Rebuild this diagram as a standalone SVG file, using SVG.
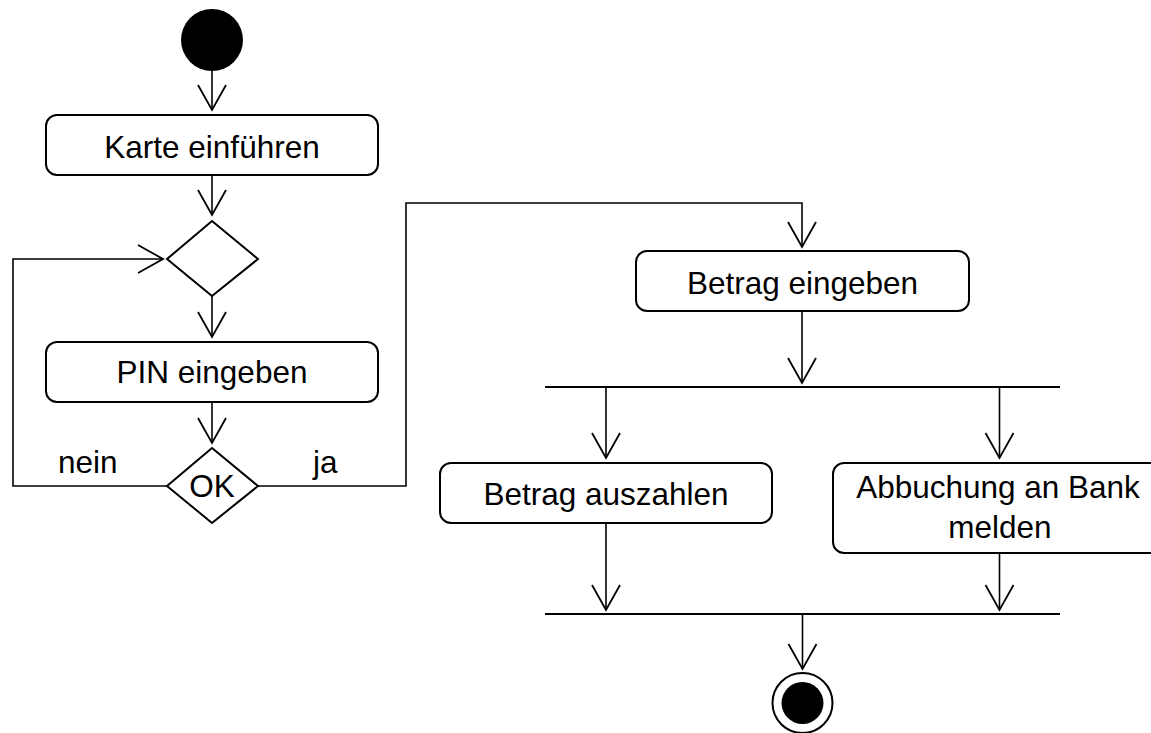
<svg xmlns="http://www.w3.org/2000/svg" width="1151" height="733" viewBox="0 0 1151 733">
<defs>
<style>
.box{fill:#fff;stroke:#000;stroke-width:2}
.dia{fill:#fff;stroke:#000;stroke-width:2}
.con{fill:none;stroke:#000;stroke-width:1.6}
.bar{stroke:#000;stroke-width:2.2}
.t{font-family:"Liberation Sans",Arial,sans-serif;font-size:31.5px;fill:#000;text-anchor:middle}
.l{font-family:"Liberation Sans",Arial,sans-serif;font-size:31.5px;fill:#000}
</style>
<marker id="arr" markerUnits="userSpaceOnUse" markerWidth="40" markerHeight="40" viewBox="-30 -20 40 40" refX="0" refY="0" orient="auto" overflow="visible">
<path d="M-25,-14 L0,0 L-25,14" fill="none" stroke="#000" stroke-width="1.8"/>
</marker>
</defs>
<rect width="1151" height="733" fill="#fff"/>

<g id="connectors">
<line class="con" x1="212" y1="71" x2="212" y2="110" marker-end="url(#arr)"/>
<line class="con" x1="212" y1="175" x2="212" y2="215" marker-end="url(#arr)"/>
<line class="con" x1="212" y1="296" x2="212" y2="337" marker-end="url(#arr)"/>
<line class="con" x1="212" y1="402" x2="212" y2="443" marker-end="url(#arr)"/>
<polyline class="con" points="167,486 13,486 13,259 163,259" marker-end="url(#arr)"/>
<polyline class="con" points="258,486 406,486 406,203 802,203 802,247" marker-end="url(#arr)"/>
<line class="con" x1="802" y1="311" x2="802" y2="383" marker-end="url(#arr)"/>
<line class="con" x1="606" y1="387" x2="606" y2="458" marker-end="url(#arr)"/>
<line class="con" x1="999.5" y1="387" x2="999.5" y2="458" marker-end="url(#arr)"/>
<line class="con" x1="606" y1="523" x2="606" y2="610" marker-end="url(#arr)"/>
<line class="con" x1="999.5" y1="553" x2="999.5" y2="610" marker-end="url(#arr)"/>
<line class="con" x1="802.5" y1="614" x2="802.5" y2="669" marker-end="url(#arr)"/>
<text class="l" x="58" y="473">nein</text>
<text class="l" x="313" y="473">ja</text>
</g>

<g id="start">
<circle cx="212" cy="40" r="31" fill="#000"/>
</g>

<g id="karte">
<rect class="box" x="46" y="115" width="332" height="60" rx="11"/>
<text class="t" x="212" y="158">Karte einführen</text>
</g>

<g id="merge">
<polygon class="dia" points="212,221 258,259 212,296 167,259"/>
</g>

<g id="pin">
<rect class="box" x="46" y="342" width="332" height="60" rx="11"/>
<text class="t" x="212" y="383">PIN eingeben</text>
</g>

<g id="ok">
<polygon class="dia" points="212,448 258,486 212,523 167,486"/>
<text class="t" x="212" y="497">OK</text>
</g>

<g id="betrag">
<rect class="box" x="636" y="251" width="333" height="60" rx="11"/>
<text class="t" x="802.5" y="294">Betrag eingeben</text>
</g>

<g id="fork">
<line class="bar" x1="545" y1="387" x2="1060" y2="387"/>
</g>

<g id="auszahlen">
<rect class="box" x="440" y="463" width="332" height="60" rx="11"/>
<text class="t" x="606" y="505">Betrag auszahlen</text>
</g>

<g id="abbuchung">
<rect class="box" x="833" y="463" width="333" height="90" rx="11"/>
<text class="t" x="998" y="498">Abbuchung an Bank</text>
<text class="t" x="1000" y="538">melden</text>
</g>

<g id="join">
<line class="bar" x1="545" y1="614" x2="1060" y2="614"/>
</g>

<g id="end">
<circle cx="802.5" cy="703" r="30" fill="#fff" stroke="#000" stroke-width="2"/>
<circle cx="802.5" cy="703" r="21" fill="#000"/>
</g>
</svg>
